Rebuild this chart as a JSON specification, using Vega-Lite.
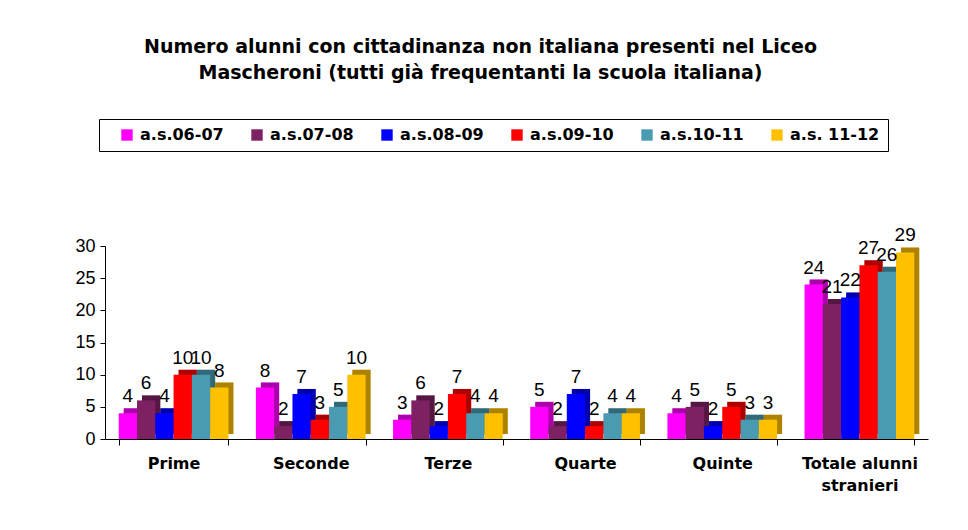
{
  "$schema": "https://vega.github.io/schema/vega-lite/v6.json",
  "width": 823,
  "height": 193,
  "autosize": {"type": "none"},
  "padding": {"left": 105, "top": 246, "right": 40, "bottom": 91},
  "background": "white",
  "title": {
    "text": ["Numero alunni  con cittadinanza non italiana presenti nel Liceo", "Mascheroni (tutti già frequentanti la scuola italiana)"],
    "anchor": "middle",
    "frame": "group",
    "dx": -36,
    "offset": 36,
    "font": "DejaVu Sans",
    "fontWeight": "bold",
    "fontSize": 19,
    "lineHeight": 26,
    "color": "black"
  },
  "data": {
    "values": [
      {"cat": "Prime", "series": "a.s.06-07", "n": 4},
      {"cat": "Prime", "series": "a.s.07-08", "n": 6},
      {"cat": "Prime", "series": "a.s.08-09", "n": 4},
      {"cat": "Prime", "series": "a.s.09-10", "n": 10},
      {"cat": "Prime", "series": "a.s.10-11", "n": 10},
      {"cat": "Prime", "series": "a.s. 11-12", "n": 8},
      {"cat": "Seconde", "series": "a.s.06-07", "n": 8},
      {"cat": "Seconde", "series": "a.s.07-08", "n": 2},
      {"cat": "Seconde", "series": "a.s.08-09", "n": 7},
      {"cat": "Seconde", "series": "a.s.09-10", "n": 3},
      {"cat": "Seconde", "series": "a.s.10-11", "n": 5},
      {"cat": "Seconde", "series": "a.s. 11-12", "n": 10},
      {"cat": "Terze", "series": "a.s.06-07", "n": 3},
      {"cat": "Terze", "series": "a.s.07-08", "n": 6},
      {"cat": "Terze", "series": "a.s.08-09", "n": 2},
      {"cat": "Terze", "series": "a.s.09-10", "n": 7},
      {"cat": "Terze", "series": "a.s.10-11", "n": 4},
      {"cat": "Terze", "series": "a.s. 11-12", "n": 4},
      {"cat": "Quarte", "series": "a.s.06-07", "n": 5},
      {"cat": "Quarte", "series": "a.s.07-08", "n": 2},
      {"cat": "Quarte", "series": "a.s.08-09", "n": 7},
      {"cat": "Quarte", "series": "a.s.09-10", "n": 2},
      {"cat": "Quarte", "series": "a.s.10-11", "n": 4},
      {"cat": "Quarte", "series": "a.s. 11-12", "n": 4},
      {"cat": "Quinte", "series": "a.s.06-07", "n": 4},
      {"cat": "Quinte", "series": "a.s.07-08", "n": 5},
      {"cat": "Quinte", "series": "a.s.08-09", "n": 2},
      {"cat": "Quinte", "series": "a.s.09-10", "n": 5},
      {"cat": "Quinte", "series": "a.s.10-11", "n": 3},
      {"cat": "Quinte", "series": "a.s. 11-12", "n": 3},
      {"cat": "Totale alunni stranieri", "series": "a.s.06-07", "n": 24},
      {"cat": "Totale alunni stranieri", "series": "a.s.07-08", "n": 21},
      {"cat": "Totale alunni stranieri", "series": "a.s.08-09", "n": 22},
      {"cat": "Totale alunni stranieri", "series": "a.s.09-10", "n": 27},
      {"cat": "Totale alunni stranieri", "series": "a.s.10-11", "n": 26},
      {"cat": "Totale alunni stranieri", "series": "a.s. 11-12", "n": 29}
    ]
  },
  "encoding": {
    "x": {
      "field": "cat", "type": "nominal", "sort": null,
      "scale": {"paddingInner": 0.2, "paddingOuter": 0.1},
      "axis": {
        "title": null, "labelAngle": 0, "domainColor": "black", "tickColor": "black",
        "tickBand": "extent", "tickSize": 6, "labelPadding": 10,
        "labelFont": "DejaVu Sans", "labelFontWeight": "bold", "labelFontSize": 16, "labelColor": "black",
        "labelLineHeight": 22,
        "labelExpr": "datum.value == 'Totale alunni stranieri' ? ['Totale alunni', 'stranieri'] : datum.label"
      }
    },
    "y": {
      "field": "n", "type": "quantitative",
      "scale": {"domain": [0, 30]},
      "axis": {
        "title": null, "values": [0, 5, 10, 15, 20, 25, 30], "grid": false,
        "domainColor": "black", "tickColor": "black", "tickSize": 5, "labelPadding": 5,
        "labelFont": "Liberation Sans", "labelFontSize": 18, "labelColor": "black"
      }
    }
  },
  "layer": [
    {
      "mark": {"type": "bar", "yOffset": -5, "y2Offset": -5},
      "encoding": {
        "xOffset": {"field": "series", "type": "nominal", "sort": null, "scale": {"paddingInner": 0, "paddingOuter": 0, "range": [5, 114.73]}},
        "color": {
          "field": "series", "type": "nominal", "sort": null,
          "scale": {
            "domain": ["a.s.06-07", "a.s.07-08", "a.s.08-09", "a.s.09-10", "a.s.10-11", "a.s. 11-12"],
            "range": ["#FF00FF", "#7E2163", "#0000FF", "#FF0000", "#4A9BB1", "#FFC000"]
          },
          "legend": {
            "title": " ", "titleOrient": "left", "titlePadding": 12, "titleFontSize": 16,
            "orient": "none", "legendX": -6, "legendY": -127, "direction": "horizontal",
            "strokeColor": "black", "padding": 8, "fillColor": "white",
            "symbolType": "square", "symbolSize": 130, "symbolStrokeWidth": 0, "symbolOpacity": 1,
            "labelFont": "DejaVu Sans", "labelFontWeight": "bold", "labelFontSize": 16, "labelColor": "black",
            "labelOffset": 5, "columnPadding": 25, "labelLimit": 200
          }
        }
      }
    },
    {
      "mark": {"type": "bar", "color": "black", "opacity": 0.32, "yOffset": -5, "y2Offset": -5},
      "encoding": {
        "xOffset": {"field": "series", "type": "nominal", "sort": null, "scale": {"paddingInner": 0, "paddingOuter": 0, "range": [5, 114.73]}}
      }
    },
    {
      "mark": {"type": "bar"},
      "encoding": {
        "xOffset": {"field": "series", "type": "nominal", "sort": null, "scale": {"paddingInner": 0, "paddingOuter": 0}},
        "color": {"field": "series", "type": "nominal", "sort": null}
      }
    },
    {
      "mark": {"type": "text", "baseline": "bottom", "dy": -7, "font": "Liberation Sans", "fontSize": 19, "color": "black"},
      "encoding": {
        "xOffset": {"field": "series", "type": "nominal", "sort": null, "scale": {"type": "point", "padding": 0.5, "range": [0, 109.73]}},
        "text": {"field": "n", "type": "quantitative"}
      }
    }
  ],
  "resolve": {"scale": {"xOffset": "independent"}},
  "config": {"view": {"stroke": null}}
}
